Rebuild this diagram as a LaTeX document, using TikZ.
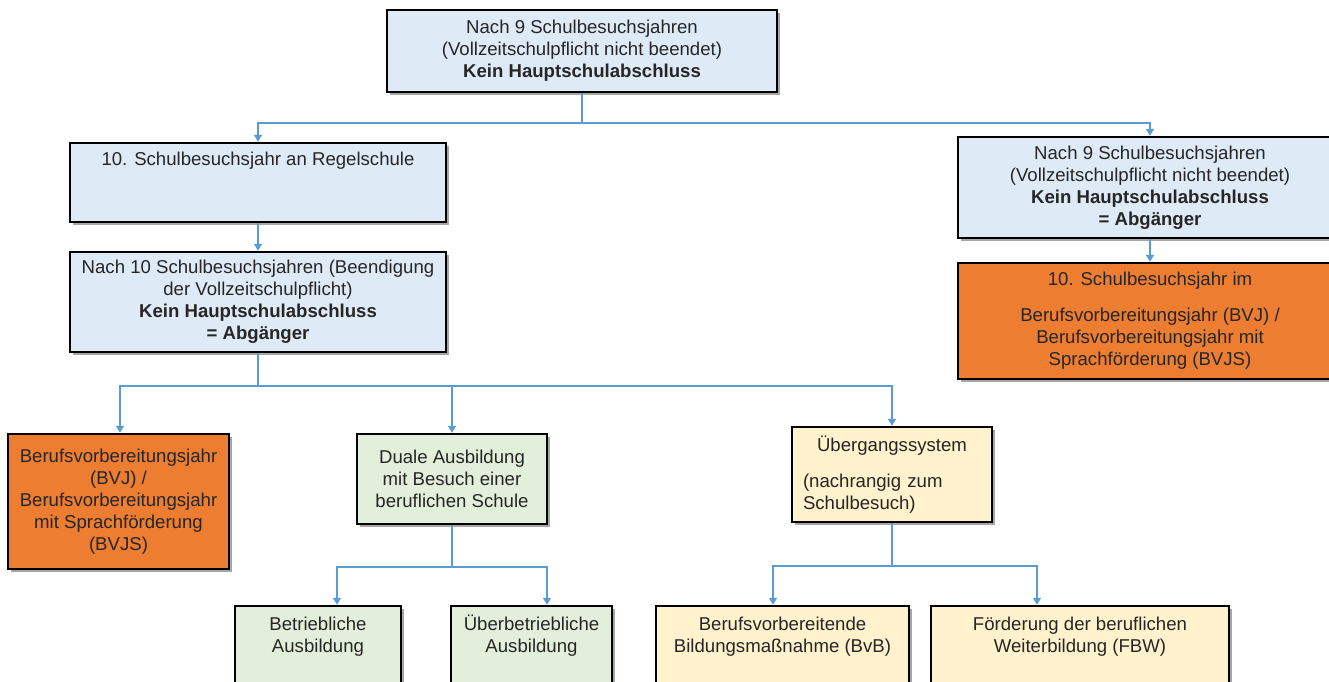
\documentclass[tikz,border=0pt]{standalone}
\usepackage{fontspec}
\setmainfont{Liberation Sans}
\usetikzlibrary{arrows.meta,shadows,positioning}

\definecolor{boxblue}{HTML}{DEEAF6}
\definecolor{boxorange}{HTML}{ED7D31}
\definecolor{boxgreen}{HTML}{E2EFDA}
\definecolor{boxyellow}{HTML}{FFF2CC}
\definecolor{linkblue}{HTML}{5B9BD5}
\definecolor{txtgray}{HTML}{262626}

\tikzset{
  box/.style={draw=black, line width=1.25pt, inner sep=0pt, align=center, text=txtgray,
    font=\fontsize{9.3}{11}\selectfont,
    drop shadow={shadow xshift=1.5pt, shadow yshift=-1.5pt, fill=black, opacity=0.35}},
  bluebox/.style={box, fill=boxblue},
  orangebox/.style={box, fill=boxorange},
  greenbox/.style={box, fill=boxgreen},
  yellowbox/.style={box, fill=boxyellow},
  boxtext/.style={inner sep=0pt, align=center, text=txtgray, font=\fontsize{9.3}{11}\selectfont},
  link/.style={draw=linkblue, line width=0.8pt, -{Triangle[width=4pt,length=3.5pt]}},
}

\begin{document}
\begin{tikzpicture}[x=0.5pt,y=-0.5pt]
\useasboundingbox (0,0) rectangle (1329,681);
\fill[white] (0,0) rectangle (1329,681);
\clip (0,0) rectangle (1329,681);

\node[bluebox, minimum width=195pt, minimum height=41pt] (top) at (582,51)
  {Nach 9 Schulbesuchsjahren\\(Vollzeitschulpflicht nicht beendet)\\\textbf{Kein Hauptschulabschluss}};
\node[bluebox, minimum width=188pt, minimum height=39.5pt] (regel) at (258,182.5) {};
\node[boxtext, below=5pt of regel.north] (regeltext) {10. Schulbesuchsjahr an Regelschule};
\node[bluebox, minimum width=188pt, minimum height=50pt] (abg10) at (258,302)
  {Nach 10 Schulbesuchsjahren (Beendigung\\der Vollzeitschulpflicht)\\\textbf{Kein Hauptschulabschluss}\\\textbf{= Abgänger}};
\node[bluebox, minimum width=192pt, minimum height=50.5pt] (abg9) at (1150,187.5)
  {Nach 9 Schulbesuchsjahren\\(Vollzeitschulpflicht nicht beendet)\\\textbf{Kein Hauptschulabschluss}\\\textbf{= Abgänger}};
\node[orangebox, minimum width=192pt, minimum height=58pt] (bvjr) at (1150,321)
  {10. Schulbesuchsjahr im\\[7pt]Berufsvorbereitungsjahr (BVJ) /\\Berufsvorbereitungsjahr mit\\Sprachförderung (BVJS)};

\node[orangebox, minimum width=110.5pt, minimum height=67.5pt] (bvjl) at (118.5,501.5)
  {Berufsvorbereitungsjahr\\(BVJ) /\\Berufsvorbereitungsjahr\\mit Sprachförderung\\(BVJS)};
\node[greenbox, minimum width=95pt, minimum height=45pt] (dual) at (452,479)
  {Duale Ausbildung\\mit Besuch einer\\beruflichen Schule};
\node[yellowbox, minimum width=100pt, minimum height=47.5pt, text width=89pt, align=left] (ueberg) at (892,474.5)
  {{\centering Übergangssystem\par}\vspace{7pt}(nachrangig zum\\Schulbesuch)};

\node[greenbox, minimum width=83pt, minimum height=50pt] (betr) at (318,656) {};
\node[boxtext, below=5pt of betr.north] (betrtext) {\vphantom{Ü}Betriebliche\\Ausbildung};
\node[greenbox, minimum width=80.5pt, minimum height=50pt] (ueber) at (531.5,656) {};
\node[boxtext, below=5pt of ueber.north] (uebertext) {\vphantom{Ü}Überbetriebliche\\Ausbildung};
\node[yellowbox, minimum width=126.5pt, minimum height=50pt] (bvb) at (782.5,656) {};
\node[boxtext, below=5pt of bvb.north] (bvbtext) {\vphantom{Ü}Berufsvorbereitende\\Bildungsmaßnahme (BvB)};
\node[yellowbox, minimum width=149pt, minimum height=50pt] (fbw) at (1080,656) {};
\node[boxtext, below=5pt of fbw.north] (fbwtext) {\vphantom{Ü}Förderung der beruflichen\\Weiterbildung (FBW)};

\draw[link] (top.south) -- ++(0,30) -| (regel.north);
\draw[link] (top.south) -- ++(0,30) -| (abg9.north);
\draw[link] (regel.south) -- (abg10.north);
\draw[link] (abg9.south) -- (bvjr.north);
\draw[link] (abg10.south) -- ++(0,33) -| ([xshift=0.75pt]bvjl.north);
\draw[link] (abg10.south) -- ++(0,33) -| (dual.north);
\draw[link] (abg10.south) -- ++(0,33) -| (ueberg.north);
\draw[link] (dual.south) -- ++(0,42) -| ([xshift=9.5pt]betr.north);
\draw[link] (dual.south) -- ++(0,42) -| ([xshift=7.75pt]ueber.north);
\draw[link] (ueberg.south) -- ++(0,43) -| ([xshift=-4.75pt]bvb.north);
\draw[link] (ueberg.south) -- ++(0,43) -| ([xshift=-21.5pt]fbw.north);
\end{tikzpicture}
\end{document}
